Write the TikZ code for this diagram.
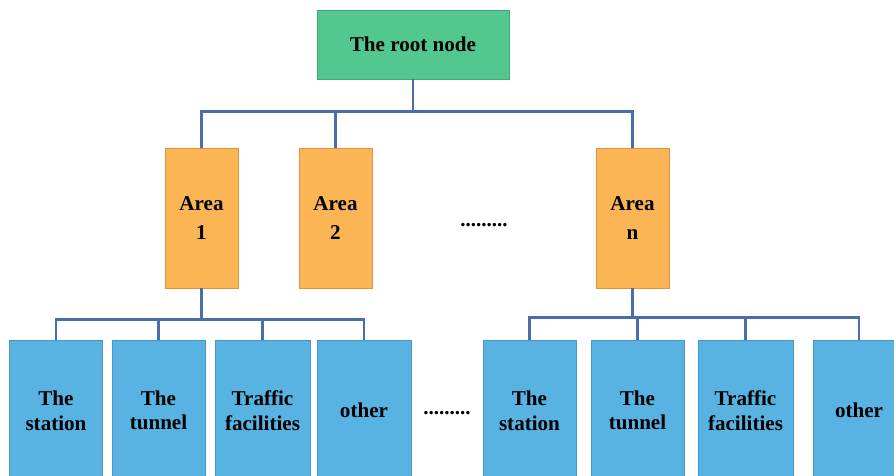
\documentclass[tikz,border=0pt]{standalone}
\usepackage{fontspec}
\setmainfont{Liberation Serif}
\usepackage{xcolor}
\usepackage{tikz}
\definecolor{mint}{HTML}{52C88E}
\definecolor{mintdark}{HTML}{3FA877}
\definecolor{amber}{HTML}{FBB555}
\definecolor{amberdark}{HTML}{D9963C}
\definecolor{sky}{HTML}{58B3E2}
\definecolor{skydark}{HTML}{4796C8}
\definecolor{steel}{HTML}{4A6FA8}

\begin{document}
\begin{tikzpicture}[node distance=3.47cm, every node/.style={align=center,font=\large\bfseries},box/.style={draw,line width=0.5pt},rootbox/.style={box,fill=mint,draw=mintdark,minimum width=3.84cm,minimum height=1.38cm},areabox/.style={box,fill=amber,draw=amberdark,minimum width=1.46cm,minimum height=2.8cm},leafbox/.style={box,fill=sky,draw=skydark,minimum height=2.8cm},link/.style={line width=1.6pt,color=steel}]
\path[use as bounding box,clip] (-8.26,0.89) rectangle (9.62,-8.61);
\node[rootbox] (root) {The root node};
\node[areabox] (area1) [below of=root,xshift=-4.23cm] {Area\\[3pt]1};
\node[areabox] (area2) [right of=area1,node distance=2.68cm] {Area\\[3pt]2};
\node[areabox] (arean) [below of=root,xshift=4.39cm] {Area\\[3pt]n};
\node (dotsa) [below of=root,xshift=1.42cm,yshift=-0.15cm] {.........};
\node[leafbox,minimum width=1.86cm] (st1) [below of=area1,node distance=3.85cm,xshift=-2.91cm] {The\\station};
\node[leafbox,minimum width=1.86cm] (tu1) [right of=st1,node distance=2.05cm] {The\\tunnel};
\node[leafbox,minimum width=1.9cm] (tf1) [right of=tu1,node distance=2.08cm] {Traffic\\facilities};
\node[leafbox,minimum width=1.88cm] (ot1) [right of=tf1,node distance=2.03cm] {other};
\node (dotsb) [right of=ot1,node distance=1.66cm,yshift=-0.05cm] {.........};
\node[leafbox,minimum width=1.86cm] (st2) [below of=arean,node distance=3.85cm,xshift=-2.06cm] {The\\station};
\node[leafbox,minimum width=1.86cm] (tu2) [right of=st2,node distance=2.16cm] {The\\tunnel};
\node[leafbox,minimum width=1.9cm] (tf2) [right of=tu2,node distance=2.16cm] {Traffic\\facilities};
\node[leafbox,minimum width=1.84cm] (ot2) [right of=tf2,node distance=2.27cm] {other};
\draw[link] (root.south) -- ++(0,-0.64) -| (area1.north);
\draw[link] (root.south) -- ++(0,-0.64) -| (area2.north);
\draw[link] (root.south) -- ++(0,-0.64) -| (arean.north);
\foreach \leaf in {st1,tu1,tf1,ot1} {\draw[link] (area1.south) -- ++(0,-0.62) -| (\leaf.north);}
\foreach \leaf in {st2,tu2,tf2,ot2} {\draw[link] (arean.south) -- ++(0,-0.58) -| (\leaf.north);}
\end{tikzpicture}
\end{document}
